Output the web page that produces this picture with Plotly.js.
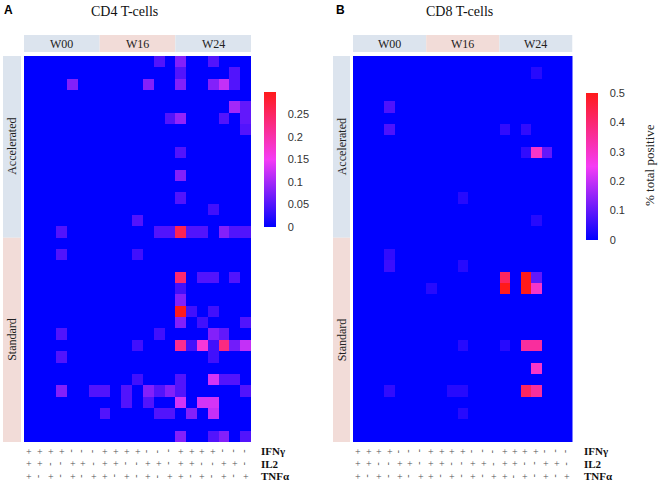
<!DOCTYPE html>
<html><head><meta charset="utf-8">
<script src="https://cdn.plot.ly/plotly-3.0.1.min.js"></script>
<style>html,body{margin:0;padding:0;background:#fff}</style>
</head><body><div id="chart" style="width:661px;height:483px"></div>
<script>
// ---------- data ----------
const weeks = ['W00', 'W16', 'W24'];
const groups = ['Accelerated', 'Standard'];
const groupRows = [16, 18];
const ifng = ['+','+','+','+','-','-','-'];
const il2  = ['+','+','-','-','+','+','-'];
const tnfa = ['+','-','+','-','+','-','+'];
const markers = ['IFNγ', 'IL2', 'TNFα'];
const cd4Max = 0.3, cd8Max = 0.5;
const cd4Ticks = [0, 0.05, 0.1, 0.15, 0.2, 0.25];
const cd8Ticks = [0, 0.1, 0.2, 0.3, 0.4, 0.5];

const cd4Values = [
 [0,0,0,0,0,0,0,0,0,0,0,0,.05,0,.08,0,0,.05,0,0,0],
 [0,0,0,0,0,0,0,0,0,0,0,0,0,0,.05,0,0,0,0,.05,0],
 [0,0,0,0,.08,0,0,0,0,0,0,.08,0,0,.08,0,0,.08,.12,.05,0],
 [0,0,0,0,0,0,0,0,0,0,0,0,0,0,0,0,0,0,0,0,0],
 [0,0,0,0,0,0,0,0,0,0,0,0,0,0,0,0,0,0,0,.1,.06],
 [0,0,0,0,0,0,0,0,0,0,0,0,0,.05,.09,0,0,0,.05,0,.06],
 [0,0,0,0,0,0,0,0,0,0,0,0,0,0,0,0,0,0,0,0,.05],
 [0,0,0,0,0,0,0,0,0,0,0,0,0,0,0,0,0,0,0,0,0],
 [0,0,0,0,0,0,0,0,0,0,0,0,0,0,.05,0,0,0,0,0,0],
 [0,0,0,0,0,0,0,0,0,0,0,0,0,0,0,0,0,0,0,0,0],
 [0,0,0,0,0,0,0,0,0,0,0,0,0,0,.08,0,0,0,0,0,0],
 [0,0,0,0,0,0,0,0,0,0,0,0,0,0,0,0,0,0,0,0,0],
 [0,0,0,0,0,0,0,0,0,0,0,0,0,0,.05,0,0,0,0,0,0],
 [0,0,0,0,0,0,0,0,0,0,0,0,0,0,0,0,0,.04,0,0,0],
 [0,0,0,0,0,0,0,0,0,0,.05,0,0,0,0,0,0,0,0,0,0],
 [0,0,0,.05,0,0,0,0,0,0,0,0,.05,.05,.26,.05,.05,0,.08,.05,.05],
 [0,0,0,0,0,0,0,0,0,0,0,0,0,0,0,0,0,0,0,0,0],
 [0,0,0,.05,0,0,0,0,0,0,.04,0,0,0,0,0,0,0,0,0,0],
 [0,0,0,0,0,0,0,0,0,0,0,0,0,0,0,0,0,0,0,0,0],
 [0,0,0,0,0,0,0,0,0,0,0,0,0,0,.24,0,.05,.05,0,.05,0],
 [0,0,0,0,0,0,0,0,0,0,0,0,0,0,.04,0,0,0,0,0,0],
 [0,0,0,0,0,0,0,0,0,0,0,0,0,0,.08,0,0,0,0,0,0],
 [0,0,0,0,0,0,0,0,0,0,0,0,0,0,.3,.04,0,.04,0,0,0],
 [0,0,0,0,0,0,0,0,0,0,0,0,0,0,.08,0,.04,0,0,0,.05],
 [0,0,0,.05,0,0,0,0,0,0,0,0,.04,0,0,0,0,.08,.06,0,0],
 [0,0,0,0,0,0,0,0,0,0,.04,0,0,0,.22,.04,.17,.04,.23,.07,.12],
 [0,0,0,.05,0,0,0,0,0,0,0,0,0,0,0,0,0,.04,0,0,0],
 [0,0,0,0,0,0,0,0,0,0,0,0,0,0,0,0,0,0,0,0,0],
 [0,0,0,0,0,0,0,0,0,0,.04,0,0,0,.05,0,0,.13,.05,.05,0],
 [0,0,0,.08,0,0,.05,.05,0,.05,0,.08,.05,.08,.05,0,0,0,0,0,.05],
 [0,0,0,0,0,0,0,0,0,.05,0,.05,0,0,.13,0,.13,.13,0,0,0],
 [0,0,0,0,0,0,0,.05,0,0,0,0,.05,.05,0,.08,0,.12,0,0,0],
 [0,0,0,0,0,0,0,0,0,0,0,0,0,0,0,0,0,0,0,0,0],
 [0,0,0,0,0,0,0,0,0,0,0,0,0,0,.08,0,0,.05,.08,0,.05]
];

const cd8Values = [
 [0,0,0,0,0,0,0,0,0,0,0,0,0,0,0,0,0,0,0,0,0],
 [0,0,0,0,0,0,0,0,0,0,0,0,0,0,0,0,0,.04,0,0,0],
 [0,0,0,0,0,0,0,0,0,0,0,0,0,0,0,0,0,0,0,0,0],
 [0,0,0,0,0,0,0,0,0,0,0,0,0,0,0,0,0,0,0,0,0],
 [0,0,0,.08,0,0,0,0,0,0,0,0,0,0,0,0,0,0,0,0,0],
 [0,0,0,0,0,0,0,0,0,0,0,0,0,0,0,0,0,0,0,0,0],
 [0,0,0,.08,0,0,0,0,0,0,0,0,0,0,.05,0,.05,0,0,0,0],
 [0,0,0,0,0,0,0,0,0,0,0,0,0,0,0,0,0,0,0,0,0],
 [0,0,0,0,0,0,0,0,0,0,0,0,0,0,0,0,.05,.3,.1,0,0],
 [0,0,0,0,0,0,0,0,0,0,0,0,0,0,0,0,0,0,0,0,0],
 [0,0,0,0,0,0,0,0,0,0,0,0,0,0,0,0,0,0,0,0,0],
 [0,0,0,0,0,0,0,0,0,0,0,0,0,0,0,0,0,0,0,0,0],
 [0,0,0,0,0,0,0,0,0,0,.04,0,0,0,0,0,0,0,0,0,0],
 [0,0,0,0,0,0,0,0,0,0,0,0,0,0,0,0,0,0,0,0,0],
 [0,0,0,0,0,0,0,0,0,0,0,0,0,0,0,0,0,.04,0,0,0],
 [0,0,0,0,0,0,0,0,0,0,0,0,0,0,0,0,0,0,0,0,0],
 [0,0,0,0,0,0,0,0,0,0,0,0,0,0,0,0,0,0,0,0,0],
 [0,0,0,.05,0,0,0,0,0,0,0,0,0,0,0,0,0,0,0,0,0],
 [0,0,0,.06,0,0,0,0,0,0,.04,0,0,0,0,0,0,0,0,0,0],
 [0,0,0,0,0,0,0,0,0,0,0,0,0,0,.42,0,.5,.1,0,0,0],
 [0,0,0,0,0,0,0,.04,0,0,0,0,0,0,.5,0,.5,.3,0,0,0],
 [0,0,0,0,0,0,0,0,0,0,0,0,0,0,0,0,0,0,0,0,0],
 [0,0,0,0,0,0,0,0,0,0,0,0,0,0,0,0,0,0,0,0,0],
 [0,0,0,0,0,0,0,0,0,0,0,0,0,0,0,0,0,0,0,0,0],
 [0,0,0,0,0,0,0,0,0,0,0,0,0,0,0,0,0,0,0,0,0],
 [0,0,0,0,0,0,0,0,0,0,.04,0,0,0,.04,0,.35,.35,0,0,0],
 [0,0,0,0,0,0,0,0,0,0,0,0,0,0,0,0,0,0,0,0,0],
 [0,0,0,0,0,0,0,0,0,0,0,0,0,0,0,0,0,.3,0,0,0],
 [0,0,0,0,0,0,0,0,0,0,0,0,0,0,0,0,0,0,0,0,0],
 [0,0,0,.05,0,0,0,0,0,.04,.04,0,0,0,0,0,.42,.35,0,0,0],
 [0,0,0,0,0,0,0,0,0,0,0,0,0,0,0,0,0,0,0,0,0],
 [0,0,0,0,0,0,0,0,0,0,.04,0,0,0,0,0,0,0,0,0,0],
 [0,0,0,0,0,0,0,0,0,0,0,0,0,0,0,0,0,0,0,0,0],
 [0,0,0,0,0,0,0,0,0,0,0,0,0,0,0,0,0,0,0,0,0]
];

// ---------- build ----------
const W = 661, H = 483;
const px = v => v / W, py = v => 1 - v / H;
const nCols = weeks.length * ifng.length;
const nRows = groupRows.reduce((a, b) => a + b, 0);
const colIdx = Array.from({length: nCols}, (_, i) => i);
const rowIdx = Array.from({length: nRows}, (_, i) => i);
const combo = [ifng, il2, tnfa];

const scale = [[0, '#0000ff'], [0.5, '#f53cf5'], [1, '#ff1a1a']];
const cbBase = {
  thickness: 12, lenmode: 'pixels', ypad: 0, xpad: 0, xanchor: 'left', yanchor: 'top',
  outlinewidth: 0, ticks: 'outside', ticklen: 10, tickcolor: 'rgba(0,0,0,0)',
  tickfont: {family: 'Liberation Sans, Arial, sans-serif', size: 11, color: '#333'}
};

const traces = [
  {type: 'heatmap', x: colIdx, y: rowIdx, z: cd4Values, xaxis: 'x', yaxis: 'y',
   colorscale: scale, zmin: 0, zmax: cd4Max, hoverinfo: 'skip',
   colorbar: Object.assign({}, cbBase, {x: px(264), y: py(92), len: 135, tickvals: cd4Ticks,
     ticktext: cd4Ticks.map(String)})},
  {type: 'heatmap', x: colIdx, y: rowIdx, z: cd8Values, xaxis: 'x2', yaxis: 'y2',
   colorscale: scale, zmin: 0, zmax: cd8Max, hoverinfo: 'skip',
   colorbar: Object.assign({}, cbBase, {x: px(586), y: py(93), len: 147, tickvals: cd8Ticks,
     ticktext: cd8Ticks.map(String)})}
];

const panels = [
  {xa: 'x', ya: 'y', left: 24, right: 251, band: [3, 21], lbl: 259, title: 'CD4 T-cells', tx: 124, letter: 'A', lx: 8},
  {xa: 'x2', ya: 'y2', left: 353, right: 572.5, band: [333, 350], lbl: 582, title: 'CD8 T-cells', tx: 459, letter: 'B', lx: 340}
];
const topPx = 56, bottomPx = 442;
const shapes = [], annotations = [];
const serif = 'Liberation Serif, Times New Roman, serif';
const weekColors = ['#dce4ee', '#f2dcd8', '#dce4ee'];
const groupColors = ['#dce4ee', '#f2dcd8'];

panels.forEach(p => {
  annotations.push({xref: 'paper', yref: 'paper', x: px(p.tx), y: py(11), text: p.title, showarrow: false,
    font: {family: serif, size: 14, color: '#111'}, xanchor: 'center', yanchor: 'middle'});
  annotations.push({xref: 'paper', yref: 'paper', x: px(p.lx), y: py(10), text: '<b>' + p.letter + '</b>', showarrow: false,
    font: {family: 'Liberation Sans, Arial, sans-serif', size: 12, color: '#000'}, xanchor: 'center', yanchor: 'middle'});
  weeks.forEach((w, i) => {
    const x0 = i * ifng.length - 0.5, x1 = (i + 1) * ifng.length - 0.5;
    shapes.push({type: 'rect', xref: p.xa, yref: 'paper', x0: x0, x1: x1, y0: py(52), y1: py(35),
      fillcolor: weekColors[i], line: {width: 0}, layer: 'below'});
    annotations.push({xref: p.xa, yref: 'paper', x: (x0 + x1) / 2, y: py(43.5), text: w, showarrow: false,
      font: {family: serif, size: 12, color: '#222'}, xanchor: 'center', yanchor: 'middle'});
  });
  let start = -0.5;
  groups.forEach((g, i) => {
    const end = start + groupRows[i];
    shapes.push({type: 'rect', xref: 'paper', yref: p.ya, x0: px(p.band[0]), x1: px(p.band[1]), y0: start, y1: end,
      fillcolor: groupColors[i], line: {width: 0}, layer: 'below'});
    annotations.push({xref: 'paper', yref: p.ya, x: px((p.band[0] + p.band[1]) / 2), y: (start + end) / 2, text: g,
      textangle: -90, showarrow: false, font: {family: serif, size: 12, color: '#222'}, xanchor: 'center', yanchor: 'middle'});
    start = end;
  });
  const rowsY = [451, 463.5, 476];
  combo.forEach((arr, m) => {
    colIdx.forEach(c => {
      const s = arr[c % arr.length];
      annotations.push({xref: p.xa, yref: 'paper', x: c, y: py(rowsY[m]), text: s === '+' ? '+' : '-',
        textangle: s === '+' ? 0 : 90, showarrow: false,
        font: {family: serif, size: 10, color: '#555'}, xanchor: 'center', yanchor: 'middle'});
    });
    annotations.push({xref: 'paper', yref: 'paper', x: px(p.lbl), y: py(rowsY[m]), text: '<b>' + markers[m] + '</b>',
      showarrow: false, font: {family: serif, size: 11, color: '#111'}, xanchor: 'left', yanchor: 'middle'});
  });
});
annotations.push({xref: 'paper', yref: 'paper', x: px(649), y: py(165), text: '% total positive', textangle: -90,
  showarrow: false, font: {family: serif, size: 13, color: '#222'}, xanchor: 'center', yanchor: 'middle'});

const axX = {range: [-0.5, nCols - 0.5], visible: false, fixedrange: true};
const axY = {range: [nRows - 0.5, -0.5], visible: false, fixedrange: true, domain: [py(bottomPx), py(topPx)]};
const layout = {
  width: W, height: H, margin: {l: 0, r: 0, t: 0, b: 0}, paper_bgcolor: '#fff', plot_bgcolor: '#fff',
  showlegend: false,
  xaxis: Object.assign({}, axX, {domain: [px(panels[0].left), px(panels[0].right)], anchor: 'y'}),
  yaxis: Object.assign({}, axY, {anchor: 'x'}),
  xaxis2: Object.assign({}, axX, {domain: [px(panels[1].left), px(panels[1].right)], anchor: 'y2'}),
  yaxis2: Object.assign({}, axY, {anchor: 'x2'}),
  shapes: shapes, annotations: annotations
};
Plotly.newPlot('chart', traces, layout, {displayModeBar: false, staticPlot: true});
</script></body></html>
